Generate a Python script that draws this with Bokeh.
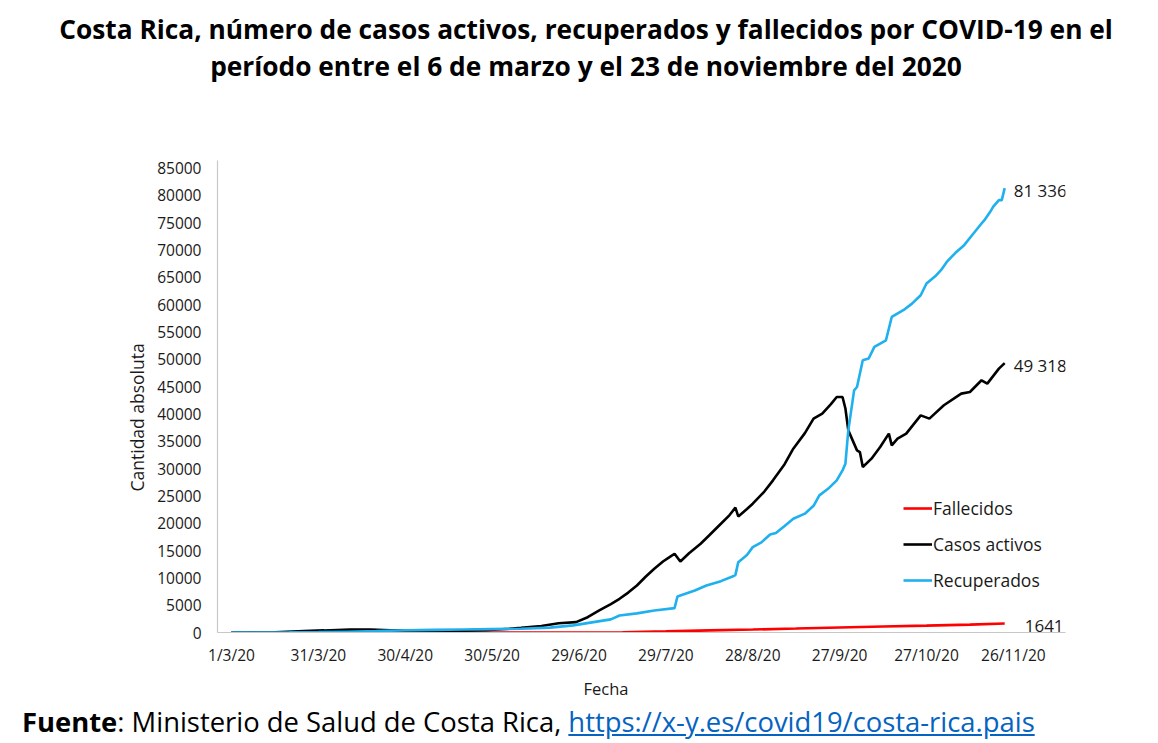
from bokeh.plotting import figure
from bokeh.models import Range1d, FixedTicker, Label, Legend, LegendItem, Div, Title
from bokeh.layouts import column
from bokeh.embed import file_html
from bokeh.resources import INLINE

# ---- data (days counted from 1 March 2020) ----
dia_activos = [0, 5, 15, 25, 32, 41, 48, 55, 62, 70, 80, 88, 96, 100, 107, 113, 119, 123, 127, 131,
               134, 137, 140, 143, 146, 149, 151, 153, 155, 158, 162, 165, 169, 172, 174, 175, 178, 180, 184, 187,
               191, 194, 198, 201, 204, 207, 209, 211, 212, 213, 216, 217, 218, 221, 224, 227, 228, 230, 233, 238,
               241, 246, 252, 255, 259, 261, 265, 267]
casos_activos = [0, 1, 40, 250, 380, 560, 520, 420, 380, 350, 330, 400, 700, 860, 1200, 1700, 1900, 2800, 4030, 5200,
                 6170, 7300, 8610, 10200, 11670, 13000, 13700, 14420, 13000, 14500, 16250, 17800, 19910, 21500, 22850, 21250, 22600, 23580, 25800, 27850,
                 30800, 33650, 36500, 39150, 40070, 41800, 43110, 43110, 41000, 37000, 33340, 33030, 30290, 31820, 33950, 36400, 34260, 35500, 36400, 39750,
                 39150, 41590, 43730, 44020, 46170, 45560, 48300, 49318]

dia_recuperados = [0, 10, 20, 30, 40, 50, 60, 70, 80, 90, 100, 110, 118, 125, 131, 134, 140, 146, 153, 154,
                   160, 164, 169, 173, 174, 175, 178, 180, 183, 186, 188, 191, 194, 198, 201, 203, 206, 209, 211, 212,
                   213, 215, 216, 218, 220, 222, 226, 228, 232, 235, 238, 240, 243, 245, 247, 250, 253, 256, 259, 260,
                   262, 263, 265, 266, 267]
recuperados = [0, 5, 20, 60, 150, 250, 400, 480, 560, 620, 680, 900, 1300, 1900, 2400, 3110, 3500, 4030, 4460, 6590,
               7700, 8610, 9400, 10260, 10500, 12880, 14200, 15630, 16500, 17950, 18200, 19500, 20830, 21750, 23200, 25100, 26300, 27850, 29680, 30900,
               37000, 44330, 44940, 49830, 50140, 52270, 53490, 57760, 58990, 60200, 61740, 63880, 65200, 66320, 67840, 69500, 70900, 72900, 74870, 75480,
               77000, 77900, 79140, 79140, 81336]

dia_fallecidos = [0, 20, 40, 60, 90, 120, 135, 150, 165, 180, 195, 210, 225, 240, 255, 267]
fallecidos = [0, 2, 6, 6, 10, 12, 40, 200, 380, 540, 720, 910, 1090, 1260, 1450, 1641]

x_tick_dias = [0, 30, 60, 90, 120, 150, 180, 210, 240, 270]
x_tick_labels = ["1/3/20", "31/3/20", "30/4/20", "30/5/20", "29/6/20", "29/7/20",
                 "28/8/20", "27/9/20", "27/10/20", "26/11/20"]
y_ticks = list(range(0, 85001, 5000))

titulo_1 = "Costa Rica, número de casos activos, recuperados y fallecidos por COVID-19 en el"
titulo_2 = "período entre el 6 de marzo y el 23 de noviembre del 2020"

FONT = "Open Sans"
TXT = "#1a1a1a"

header = Div(text=f'<div style="font-family:\'Open Sans\';font-weight:bold;font-size:26.3px;color:#000;'
                  f'box-sizing:border-box;width:1150px;text-align:center;line-height:37px;padding-top:11px;'
                  f'padding-left:22px;white-space:nowrap;">'
                  f'{titulo_1}<br>{titulo_2}</div>',
             width=1150, height=90, margin=(0, 0, 0, 0))

p = figure(width=1140, height=615, output_backend="svg", toolbar_location=None,
           x_range=Range1d(-4.83, 288), y_range=Range1d(0, 86400),
           min_border_left=217, min_border_right=75, min_border_top=70, min_border_bottom=73,
           background_fill_color="white", border_fill_color="white", margin=(0, 0, 0, 0))
p.outline_line_color = None
p.xgrid.grid_line_color = None
p.ygrid.grid_line_color = None

# axes
p.xaxis.ticker = FixedTicker(ticks=x_tick_dias)
p.xaxis.major_label_overrides = {d: l for d, l in zip(x_tick_dias, x_tick_labels)}
p.yaxis.ticker = FixedTicker(ticks=y_ticks)
p.yaxis.major_label_overrides = {v: str(v) for v in y_ticks}
for ax in (p.xaxis, p.yaxis):
    ax.major_tick_line_color = None
    ax.minor_tick_line_color = None
    ax.major_label_text_font = FONT
    ax.major_label_text_color = TXT
    ax.axis_line_color = "#c8c8c8"
    ax.axis_line_width = 1.2
p.xaxis.major_label_text_font_size = "15.5px"
p.yaxis.major_label_text_font_size = "15.5px"
p.xaxis.major_label_standoff = 5
p.yaxis.major_label_standoff = 10

# axis titles
p.add_layout(Title(text="Cantidad absoluta", align="left", offset=141, standoff=12,
                   text_font=FONT, text_font_style="normal", text_font_size="17.5px",
                   text_color=TXT), "left")
p.add_layout(Title(text="Fecha", align="left", offset=366, standoff=12,
                   text_font=FONT, text_font_style="normal", text_font_size="16.5px",
                   text_color=TXT), "below")

# series
r_fal = p.line(dia_fallecidos, fallecidos, line_color="#ff0000", line_width=2.6)
r_act = p.line(dia_activos, casos_activos, line_color="#000000", line_width=2.6)
r_rec = p.line(dia_recuperados, recuperados, line_color="#1fb0ee", line_width=2.6)

legend = Legend(items=[LegendItem(label="Fallecidos", renderers=[r_fal]),
                       LegendItem(label="Casos activos", renderers=[r_act]),
                       LegendItem(label="Recuperados", renderers=[r_rec])],
                location=(686, 40), orientation="vertical",
                border_line_color=None, background_fill_alpha=0,
                padding=0, margin=0, spacing=12, glyph_width=29, glyph_height=20,
                label_height=20, label_standoff=1,
                label_text_font=FONT, label_text_font_size="17.5px", label_text_color=TXT)
p.add_layout(legend, "center")

# data labels at the end of each series
def fmt(v):
    return f"{v:,}".replace(",", " ")

for dias, vals, xo, txt in ((dia_recuperados, recuperados, 9, fmt(recuperados[-1])),
                            (dia_activos, casos_activos, 9, fmt(casos_activos[-1])),
                            (dia_fallecidos, fallecidos, 20, str(fallecidos[-1]))):
    p.add_layout(Label(x=dias[-1], y=vals[-1], x_offset=xo, y_offset=-2, text=txt,
                       text_font=FONT, text_font_size="17px", text_color=TXT,
                       text_align="left", text_baseline="middle"))

footer = Div(text='<div style="font-family:\'Open Sans\';font-size:27.4px;color:#000;white-space:nowrap;line-height:34px;">'
                  '<b>Fuente</b>: Ministerio de Salud de Costa Rica, '
                  '<a href="https://x-y.es/covid19/costa-rica.pais" style="color:#0563c1;text-decoration:underline;">'
                  'https://x-y.es/covid19/costa-rica.pais</a></div>',
             width=1120, height=34, margin=(0, 0, 0, 22))

layout = column(header, p, footer, spacing=0)
open("out.html", "w").write(file_html(layout, INLINE))
